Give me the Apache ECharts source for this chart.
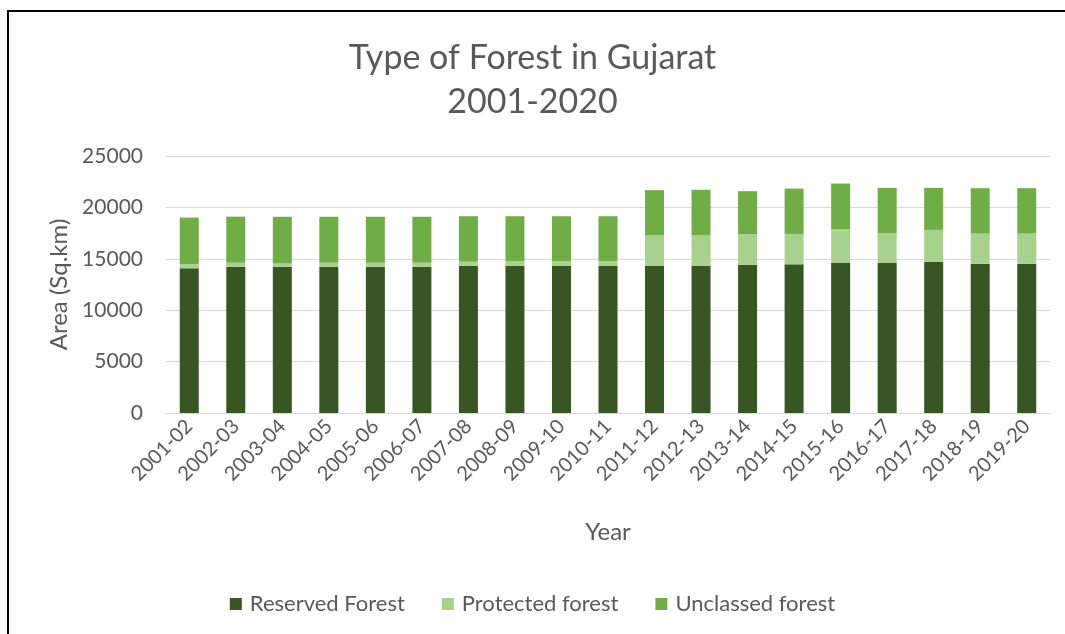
<!DOCTYPE html>
<html>
<head>
<meta charset="utf-8">
<script src="https://cdn.jsdelivr.net/npm/echarts@6/dist/echarts.min.js"></script>
<style>
html,body{margin:0;padding:0;background:#fff;}
#chart{width:1065px;height:634px;}
</style>
</head>
<body>
<div id="chart"></div>
<script>
const categories = ["2001-02","2002-03","2003-04","2004-05","2005-06","2006-07","2007-08","2008-09","2009-10","2010-11","2011-12","2012-13","2013-14","2014-15","2015-16","2016-17","2017-18","2018-19","2019-20"];
const reservedForest = [14070,14230,14230,14230,14230,14230,14330,14330,14330,14330,14300,14330,14420,14460,14590,14590,14720,14520,14520];
const protectedForest = [420,390,360,390,390,390,390,460,460,460,2990,2960,2970,2960,3310,2920,3090,2930,2930];
const unclassedForest = [4520,4480,4500,4470,4470,4470,4420,4350,4350,4350,4390,4420,4190,4410,4420,4390,4090,4420,4420];
const yTicks = [0,5000,10000,15000,20000,25000];

const FONT = 'Lato, "Open Sans", sans-serif';
const TXT = '#595959';
const chart = echarts.init(document.getElementById('chart'), null, {renderer:'canvas'});
chart.setOption({
  animation:false,
  textStyle:{fontFamily:FONT},
  graphic:[{type:'rect',shape:{x:8,y:11,width:1100,height:700},style:{fill:'none',stroke:'#000',lineWidth:2},silent:true}],
  title:{
    text:'Type of Forest in Gujarat\n2001-2020',
    left:'center', top:31,
    textStyle:{fontFamily:FONT,fontSize:34,fontWeight:'normal',color:TXT,lineHeight:44}
  },
  legend:{
    top:588, left:'center',
    itemWidth:12, itemHeight:12, itemGap:37,
    icon:'rect',
    textStyle:{fontFamily:FONT,fontSize:22,color:TXT,padding:[0,0,0,3]},
    data:['Reserved Forest','Protected forest','Unclassed forest']
  },
  grid:{left:166,right:15,top:156,bottom:221},
  xAxis:{
    type:'category', data:categories,
    name:'Year', nameLocation:'middle', nameGap:107,
    nameTextStyle:{fontFamily:FONT,fontSize:24,color:TXT},
    axisLine:{lineStyle:{color:'#d9d9d9',width:1}},
    axisTick:{show:false},
    axisLabel:{rotate:45,fontFamily:FONT,fontSize:20,color:TXT,margin:10,interval:0}
  },
  yAxis:{
    type:'value', min:yTicks[0], max:yTicks[yTicks.length-1], interval:yTicks[1]-yTicks[0],
    name:'Area (Sq.km)', nameLocation:'middle', nameGap:91,
    nameTextStyle:{fontFamily:FONT,fontSize:24,color:TXT},
    axisLine:{show:false}, axisTick:{show:false},
    axisLabel:{fontFamily:FONT,fontSize:21,color:TXT,margin:23,formatter:function(v){return String(v);}},
    splitLine:{lineStyle:{color:'#d9d9d9',width:1}}
  },
  series:[
    {name:'Reserved Forest',type:'bar',stack:'a',data:reservedForest,barWidth:19,itemStyle:{color:'#375623'}},
    {name:'Protected forest',type:'bar',stack:'a',data:protectedForest,barWidth:19,itemStyle:{color:'#A9D18E'}},
    {name:'Unclassed forest',type:'bar',stack:'a',data:unclassedForest,barWidth:19,itemStyle:{color:'#70AD47'}}
  ]
});
</script>
</body>
</html>
